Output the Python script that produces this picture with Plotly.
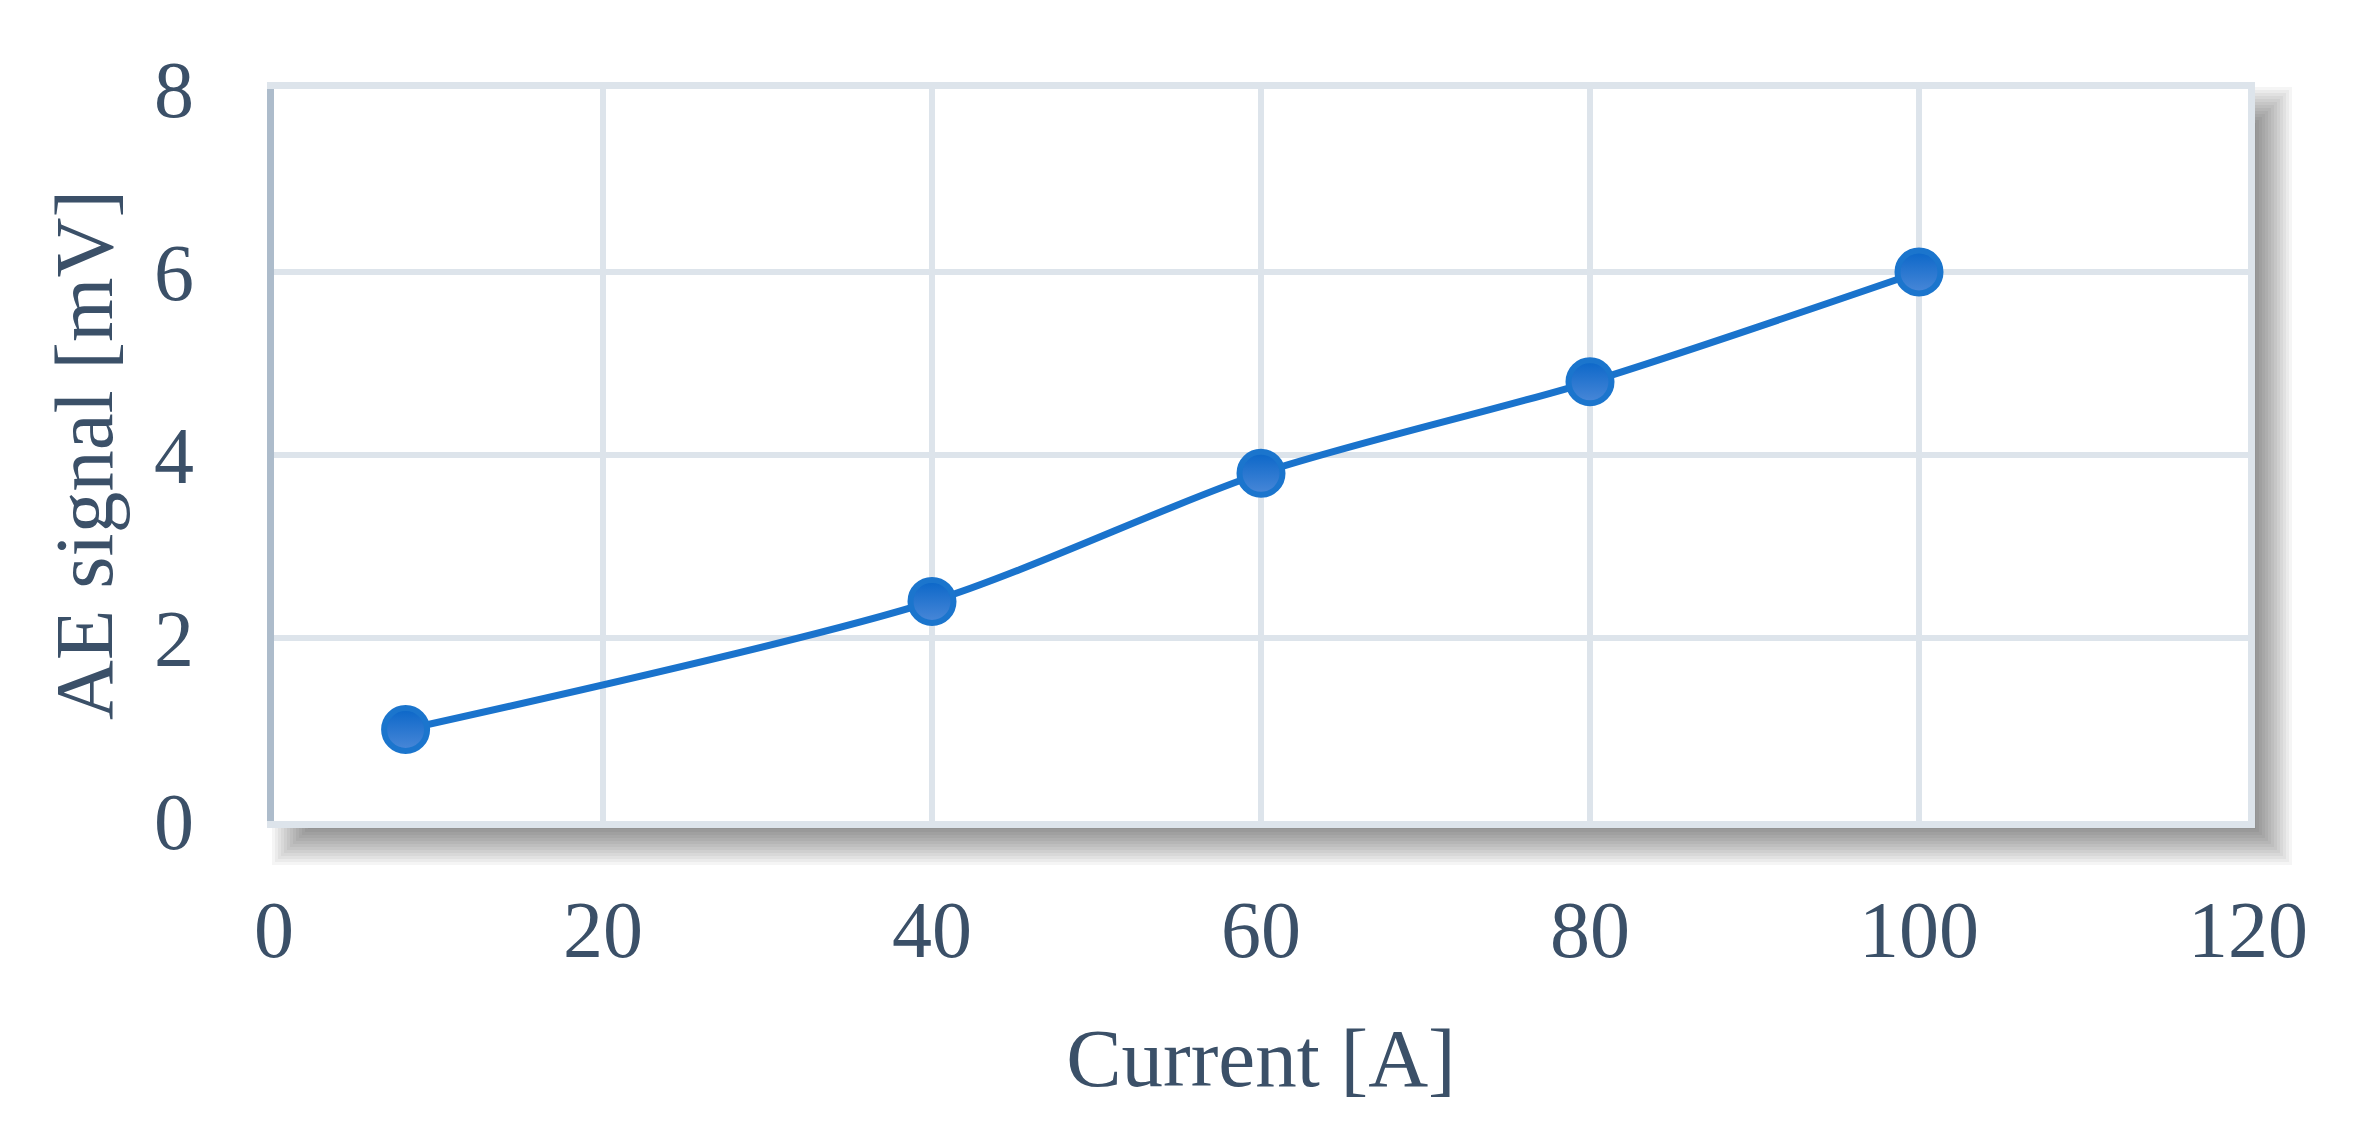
import plotly.graph_objects as go

current = [8, 40, 60, 80, 100]
ae_signal = [1.0, 2.4, 3.8, 4.8, 6.0]
x_ticks = [0, 20, 40, 60, 80, 100, 120]
y_ticks = [0, 2, 4, 6, 8]

# the page body has an 8px default margin, so the figure is drawn 8px in
W, H = 2347, 1133
ML, MT = 266, 81
PR, PB = 2240, 813          # plot-area right / bottom edges in figure px
MR, MB = W - PR, H - PB
PW, PH = PR - ML, PB - MT

FONT = "Palatino Linotype, Book Antiqua, Palatino, Liberation Serif, serif"
TXT = "#3b5068"
GRID = "#dde4eb"
AXIS = "#adbccb"
LW = 7

fig = go.Figure()
fig.add_trace(go.Scatter(
    x=current, y=ae_signal, mode="lines+markers",
    line=dict(color="#1a73cc", width=7, shape="spline", smoothing=0.8),
    marker=dict(size=43, color="#0a66c8",
                line=dict(color="#1b75cd", width=6),
                gradient=dict(type="vertical", color="#4a88d8")),
    showlegend=False,
))

def px2paper_x(px):
    return (px - ML) / PW

def px2paper_y(py):
    return (PB - py) / PH

shapes = []
dx, dy = 14, 14
for e in range(-30, 31, 3):
    shapes.append(dict(
        type="rect", xref="paper", yref="paper", layer="below",
        x0=px2paper_x(ML + dx + 14 - e), x1=px2paper_x(PR + dx + e),
        y0=px2paper_y(PB + dy + e), y1=px2paper_y(MT + dy + 14 - e),
        fillcolor="rgba(0,0,0,0.04)", line=dict(width=0),
    ))
shapes.append(dict(
    type="rect", xref="paper", yref="paper", layer="below",
    x0=px2paper_x(ML - LW), x1=px2paper_x(PR + LW),
    y0=px2paper_y(PB + LW), y1=px2paper_y(MT - LW),
    fillcolor="white", line=dict(width=0),
))
# right border of the plot area
shapes.append(dict(
    type="line", xref="paper", yref="paper", layer="above",
    x0=px2paper_x(PR + LW / 2), x1=px2paper_x(PR + LW / 2),
    y0=px2paper_y(PB + LW), y1=px2paper_y(MT - LW),
    line=dict(color=GRID, width=LW),
))

fig.update_layout(
    width=W, height=H,
    margin=dict(l=ML, r=MR, t=MT, b=MB, pad=0),
    paper_bgcolor="white", plot_bgcolor="rgba(0,0,0,0)",
    font=dict(family=FONT, color=TXT, size=80),
    shapes=shapes,
    xaxis=dict(
        range=[0, 120], tickvals=x_ticks, ticktext=[str(v) for v in x_ticks],
        showgrid=True, gridcolor=GRID, gridwidth=6,
        showline=True, linecolor=GRID, linewidth=LW, mirror=True,
        zeroline=False, ticks="", ticklabelstandoff=33,
        tickfont=dict(size=80, family=FONT, color=TXT),
        title=dict(text="Current [A]", font=dict(size=83, family=FONT, color=TXT), standoff=57),
    ),
    yaxis=dict(
        range=[0, 8], tickvals=y_ticks, ticktext=[str(v) for v in y_ticks],
        showgrid=True, gridcolor=GRID, gridwidth=6,
        showline=True, linecolor=AXIS, linewidth=LW,
        zeroline=False, ticks="", ticklabelstandoff=57,
        tickfont=dict(size=80, family=FONT, color=TXT),
        title=dict(text="AE signal [mV]", font=dict(size=83, family=FONT, color=TXT), standoff=16),
    ),
)

fig.write_html("out.html")
